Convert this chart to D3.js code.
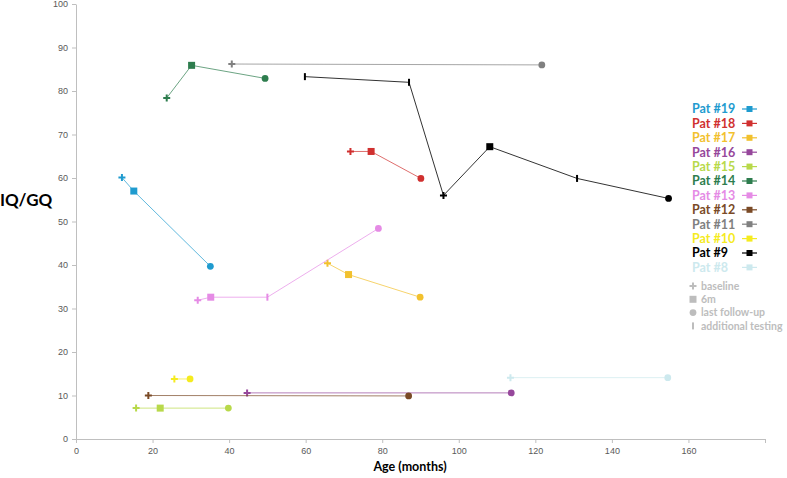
<!DOCTYPE html>
<html>
<head>
<meta charset="utf-8">
<script src="https://cdn.jsdelivr.net/npm/d3@7"></script>
<style>
  body { margin: 0; background: #fff; }
  svg { display: block; font-family: Lato, "Open Sans", sans-serif; }
</style>
</head>
<body>
<div id="chart"></div>
<script>
// patients, top to bottom as in the legend
const patients = [ "Pat #19", "Pat #18", "Pat #17", "Pat #16", "Pat #15", "Pat #14",
                   "Pat #13", "Pat #12", "Pat #11", "Pat #10", "Pat #9", "Pat #8" ];

// age in months of every test
const ages = [
  [ 12, 15.1, 35.1 ],
  [ 71.7, 77.1, 90.1 ],
  [ 65.7, 71.2, 89.9 ],
  [ 44.7, 113.7 ],
  [ 15.7, 22, 39.8 ],
  [ 23.7, 30.2, 49.4 ],
  [ 31.8, 35.2, 50, 79 ],
  [ 18.9, 86.9 ],
  [ 40.7, 121.7 ],
  [ 25.7, 29.8 ],
  [ 59.8, 87, 96, 108.1, 130.9, 154.8 ],
  [ 113.5, 154.6 ]
];

// IQ / GQ score of every test
const scores = [
  [ 60.1, 57, 39.7 ],
  [ 66.1, 66.1, 59.9 ],
  [ 40.4, 37.8, 32.6 ],
  [ 10.6, 10.6 ],
  [ 7.1, 7.1, 7.1 ],
  [ 78.4, 85.9, 82.9 ],
  [ 31.9, 32.6, 32.6, 48.4 ],
  [ 10, 9.9 ],
  [ 86.2, 86 ],
  [ 13.8, 13.8 ],
  [ 83.3, 82, 56, 67.2, 59.9, 55.3 ],
  [ 14.1, 14.1 ]
];

// kind of test: b = baseline, m = 6m, l = last follow-up, a = additional testing
const kinds = [
  [ "b", "m", "l" ],
  [ "b", "m", "l" ],
  [ "b", "m", "l" ],
  [ "b", "l" ],
  [ "b", "m", "l" ],
  [ "b", "m", "l" ],
  [ "b", "m", "a", "l" ],
  [ "b", "l" ],
  [ "b", "l" ],
  [ "b", "l" ],
  [ "a", "a", "b", "m", "a", "l" ],
  [ "b", "l" ]
];

const kindNames = [ "baseline", "6m", "last follow-up", "additional testing" ];
const kindKeys = [ "b", "m", "l", "a" ];

const colors = [ "#1f9bcf", "#d0302f", "#f2c12e", "#96479b", "#b8d94a", "#2e7d4e",
                 "#e58be5", "#7a4a26", "#808080", "#f5eb1f", "#000000", "#cde9ee" ];

const xTicks = d3.range( 0, 181, 20 );
const yTicks = d3.range( 0, 101, 10 );

const width = 787, height = 478;

const svg = d3.select( "#chart" )
  .append( "svg" )
  .attr( "width", width )
  .attr( "height", height );

const x = d3.scaleLinear().domain( [ 0, 180 ] ).range( [ 76, 765 ] );
const y = d3.scaleLinear().domain( [ 0, 100 ] ).range( [ 439, 4 ] );

// axes
const yAxis = svg.append( "g" )
  .attr( "transform", `translate(${ x( 0 ) },0)` )
  .call( d3.axisLeft( y ).tickValues( yTicks ).tickSize( 4 ).tickPadding( 4 ).tickSizeOuter( 0 ) );

const xAxis = svg.append( "g" )
  .attr( "transform", `translate(0,${ y( 0 ) })` )
  .call( d3.axisBottom( x ).tickValues( xTicks ).tickSize( 4 ).tickPadding( 5 ).tickSizeOuter( 0 )
    .tickFormat( d => d === 180 ? "" : d ) );

[ xAxis, yAxis ].forEach( g => {
  g.selectAll( "path, line" ).attr( "stroke", "#bfbfbf" );
  g.selectAll( "text" ).attr( "fill", "#595959" ).style( "font-size", "9px" );
} );

svg.append( "text" )
  .attr( "x", 0 )
  .attr( "y", 206 )
  .style( "font-size", "17px" )
  .style( "font-weight", "bold" )
  .text( "IQ/GQ" );

svg.append( "text" )
  .attr( "x", 410 )
  .attr( "y", 471 )
  .attr( "text-anchor", "middle" )
  .style( "font-size", "12.5px" )
  .style( "font-weight", "bold" )
  .text( "Age (months)" );

// marker shapes
function drawMarker( g, kind, color, cx, cy ) {
  if( kind === "b" ) {
    g.append( "path" )
      .attr( "d", `M${ cx - 3.5 },${ cy }H${ cx + 3.5 }M${ cx },${ cy - 3.5 }V${ cy + 3.5 }` )
      .attr( "stroke", color ).attr( "stroke-width", 2 );
  } else if( kind === "m" ) {
    g.append( "rect" )
      .attr( "x", cx - 3.5 ).attr( "y", cy - 3.5 )
      .attr( "width", 7 ).attr( "height", 7 )
      .attr( "fill", color );
  } else if( kind === "l" ) {
    g.append( "circle" )
      .attr( "cx", cx ).attr( "cy", cy ).attr( "r", 3.4 )
      .attr( "fill", color );
  } else {
    g.append( "rect" )
      .attr( "x", cx - 1 ).attr( "y", cy - 3.5 )
      .attr( "width", 2 ).attr( "height", 7 )
      .attr( "fill", color );
  }
}

const line = d3.line().x( d => x( d[ 0 ] ) ).y( d => y( d[ 1 ] ) );

patients.forEach( ( p, i ) => {
  const g = svg.append( "g" );
  const pts = ages[ i ].map( ( a, j ) => [ a, scores[ i ][ j ] ] );
  g.append( "path" )
    .attr( "d", line( pts ) )
    .attr( "fill", "none" )
    .attr( "stroke", colors[ i ] )
    .attr( "stroke-opacity", colors[ i ] === "#000000" ? 0.8 : 0.7 )
    .attr( "stroke-width", 1 );
  pts.forEach( ( d, j ) => drawMarker( g, kinds[ i ][ j ], colors[ i ], x( d[ 0 ] ), y( d[ 1 ] ) ) );
} );

// legend
const legend = svg.append( "g" );
patients.forEach( ( p, i ) => {
  const ly = 109 + i * 14.4;
  legend.append( "text" )
    .attr( "x", 692 )
    .attr( "y", ly + 4.3 )
    .attr( "fill", colors[ i ] )
    .style( "font-size", "12.5px" )
    .style( "font-weight", "bold" )
    .text( p );
  legend.append( "line" )
    .attr( "x1", 742 ).attr( "x2", 757 )
    .attr( "y1", ly ).attr( "y2", ly )
    .attr( "stroke", colors[ i ] ).attr( "stroke-width", 1.2 );
  legend.append( "rect" )
    .attr( "x", 746.5 ).attr( "y", ly - 3 )
    .attr( "width", 6 ).attr( "height", 6 )
    .attr( "fill", colors[ i ] );
} );

kindNames.forEach( ( k, i ) => {
  const ly = 286 + i * 13.3;
  drawMarker( legend, kindKeys[ i ], "#bdbdbd", 693, ly );
  legend.append( "text" )
    .attr( "x", 701 )
    .attr( "y", ly + 3.8 )
    .attr( "fill", "#bdbdbd" )
    .style( "font-size", "10.5px" )
    .style( "font-weight", "bold" )
    .text( k );
} );
</script>
</body>
</html>
